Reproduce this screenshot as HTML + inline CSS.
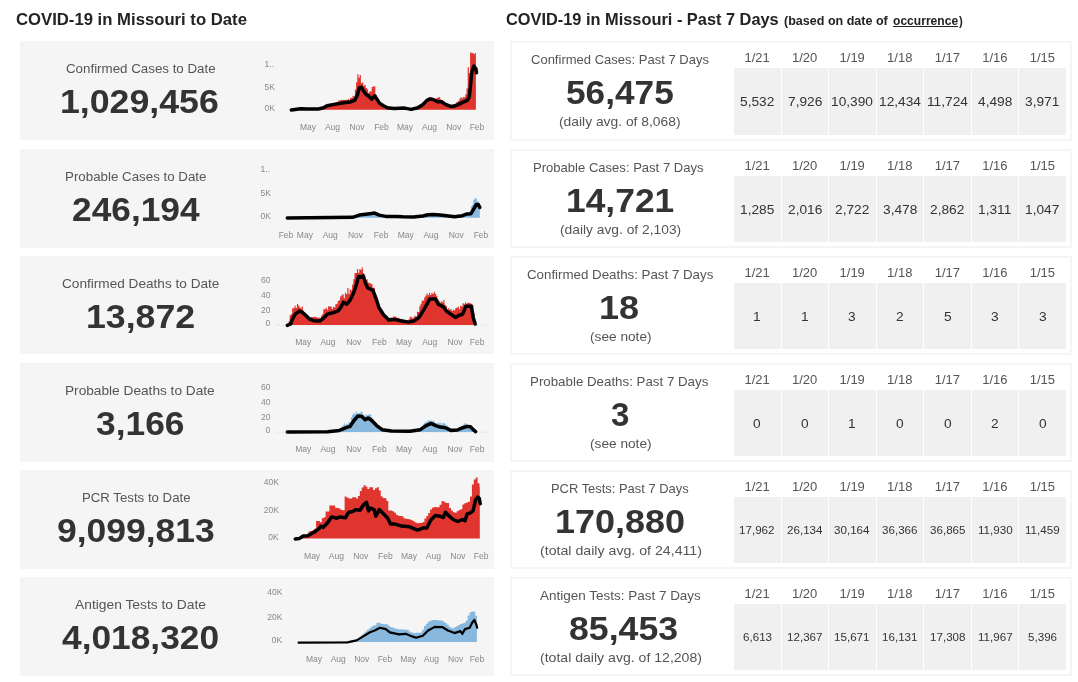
<!DOCTYPE html>
<html lang="en">
<head>
<meta charset="utf-8">
<title>COVID-19 in Missouri</title>
<style>
html,body{margin:0;padding:0;background:#fff;}
body{width:1078px;height:682px;position:relative;overflow:hidden;font-family:"Liberation Sans",sans-serif;}
.t{position:absolute;white-space:nowrap;line-height:1;transform-origin:0 0;display:block;}
.b{font-weight:bold;}
.u{text-decoration:underline;text-decoration-thickness:1px;text-underline-offset:1px;}
.lp{position:absolute;left:20px;width:474px;background:#f5f5f5;}
.rp{position:absolute;left:510px;width:562px;box-sizing:border-box;border:2px solid #f5f5f5;background:#fff;}
.cells{position:absolute;background:#f0f0f0;}
.sep{position:absolute;width:1px;background:#fff;}
header,main{will-change:transform;}
svg{position:absolute;left:0;top:0;overflow:visible;}
svg text{font-family:"Liberation Sans",sans-serif;font-size:8.5px;fill:#888;}
</style>
</head>
<body>
<header>
<span class="t b" style="left:16.20px;top:11.32px;font-size:16.4px;color:#232323;transform:scaleX(1.0183)">COVID-19 in Missouri to Date</span>
<span class="t b" style="left:506.00px;top:11.32px;font-size:16.4px;color:#232323;transform:scaleX(0.9980)">COVID-19 in Missouri - Past 7 Days</span>
<span class="t b" style="left:784.30px;top:14.93px;font-size:12.6px;color:#232323;transform:scaleX(0.9956)">(based on date of</span>
<span class="t b u" style="left:892.50px;top:14.93px;font-size:12.6px;color:#232323;transform:scaleX(0.9588)">occurrence</span>
<span class="t b" style="left:958.80px;top:14.93px;font-size:12.6px;color:#232323;transform:scaleX(0.9000)">)</span>
</header>
<main>
<section class="row">
<div class="card">
<div class="lp" style="top:41px;height:99px"></div>
<span class="t" style="left:65.60px;top:62.20px;font-size:13px;color:#555;transform:scaleX(1.0252)">Confirmed Cases to Date</span>
<span class="t b" style="left:60.39px;top:85.96px;font-size:32.3px;color:#333;transform:scaleX(1.1050)">1,029,456</span>
<svg width="1078" height="682" viewBox="0 0 1078 682">
<path d="M291.30,109.70L291.30,109.70L292.50,109.70L292.50,109.66L293.70,109.66L293.70,109.64L294.90,109.64L294.90,109.61L296.10,109.61L296.10,109.59L297.30,109.59L297.30,109.57L298.50,109.57L298.50,109.54L299.70,109.54L299.70,109.52L300.90,109.52L300.90,109.50L302.10,109.50L302.10,109.48L303.30,109.48L303.30,109.45L304.50,109.45L304.50,109.43L305.70,109.43L305.70,109.41L306.90,109.41L306.90,109.39L308.10,109.39L308.10,109.36L309.30,109.36L309.30,109.34L310.50,109.34L310.50,109.32L311.70,109.32L311.70,109.30L312.90,109.30L312.90,109.27L314.10,109.27L314.10,109.25L315.30,109.25L315.30,109.23L316.50,109.23L316.50,109.21L317.70,109.21L317.70,108.77L318.90,108.77L318.90,108.19L320.10,108.19L320.10,107.76L321.30,107.76L321.30,107.03L322.50,107.03L322.50,106.77L323.70,106.77L323.70,105.70L324.90,105.70L324.90,105.44L326.10,105.44L326.10,104.35L327.30,104.35L327.30,104.28L328.50,104.28L328.50,103.91L329.70,103.91L329.70,104.28L330.90,104.28L330.90,103.48L332.10,103.48L332.10,103.31L333.30,103.31L333.30,102.96L334.50,102.96L334.50,103.10L335.70,103.10L335.70,101.88L336.90,101.88L336.90,102.05L338.10,102.05L338.10,100.79L339.30,100.79L339.30,100.59L340.50,100.59L340.50,99.80L341.70,99.80L341.70,100.29L342.90,100.29L342.90,99.80L344.10,99.80L344.10,100.09L345.30,100.09L345.30,99.80L346.50,99.80L346.50,100.14L347.70,100.14L347.70,99.04L348.90,99.04L348.90,99.83L350.10,99.83L350.10,97.81L351.30,97.81L351.30,98.09L352.50,98.09L352.50,95.83L353.70,95.83L353.70,96.54L354.90,96.54L354.90,89.47L356.10,89.47L356.10,82.17L357.30,82.17L357.30,74.20L358.50,74.20L358.50,77.83L359.70,77.83L359.70,75.05L360.90,75.05L360.90,83.21L362.10,83.21L362.10,82.51L363.30,82.51L363.30,85.71L364.50,85.71L364.50,85.09L365.70,85.09L365.70,88.00L366.90,88.00L366.90,89.36L368.10,89.36L368.10,93.04L369.30,93.04L369.30,91.56L370.50,91.56L370.50,91.23L371.70,91.23L371.70,86.88L372.90,86.88L372.90,86.51L374.10,86.51L374.10,86.25L375.30,86.25L375.30,95.55L376.50,95.55L376.50,97.00L377.70,97.00L377.70,100.02L378.90,100.02L378.90,101.42L380.10,101.42L380.10,103.14L381.30,103.14L381.30,103.71L382.50,103.71L382.50,104.88L383.70,104.88L383.70,105.31L384.90,105.31L384.90,106.13L386.10,106.13L386.10,106.67L387.30,106.67L387.30,107.53L388.50,107.53L388.50,107.57L389.70,107.57L389.70,107.85L390.90,107.85L390.90,107.93L392.10,107.93L392.10,108.12L393.30,108.12L393.30,108.29L394.50,108.29L394.50,108.36L395.70,108.36L395.70,108.32L396.90,108.32L396.90,108.29L398.10,108.29L398.10,108.25L399.30,108.25L399.30,108.22L400.50,108.22L400.50,108.18L401.70,108.18L401.70,108.15L402.90,108.15L402.90,108.11L404.10,108.11L404.10,108.11L405.30,108.11L405.30,108.20L406.50,108.20L406.50,108.43L407.70,108.43L407.70,108.52L408.90,108.52L408.90,108.73L410.10,108.73L410.10,108.85L411.30,108.85L411.30,108.69L412.50,108.69L412.50,108.24L413.70,108.24L413.70,107.98L414.90,107.98L414.90,107.52L416.10,107.52L416.10,107.16L417.30,107.16L417.30,106.48L418.50,106.48L418.50,106.13L419.70,106.13L419.70,104.72L420.90,104.72L420.90,104.37L422.10,104.37L422.10,102.86L423.30,102.86L423.30,101.52L424.50,101.52L424.50,100.03L425.70,100.03L425.70,98.94L426.90,98.94L426.90,98.03L428.10,98.03L428.10,97.53L429.30,97.53L429.30,97.19L430.50,97.19L430.50,97.77L431.70,97.77L431.70,97.70L432.90,97.70L432.90,98.58L434.10,98.58L434.10,98.72L435.30,98.72L435.30,99.05L436.50,99.05L436.50,97.72L437.70,97.72L437.70,97.68L438.90,97.68L438.90,97.10L440.10,97.10L440.10,99.21L441.30,99.21L441.30,100.03L442.50,100.03L442.50,101.52L443.70,101.52L443.70,102.02L444.90,102.02L444.90,103.57L446.10,103.57L446.10,103.86L447.30,103.86L447.30,104.60L448.50,104.60L448.50,104.95L449.70,104.95L449.70,105.73L450.90,105.73L450.90,105.06L452.10,105.06L452.10,104.83L453.30,104.83L453.30,103.88L454.50,103.88L454.50,103.99L455.70,103.99L455.70,102.55L456.90,102.55L456.90,101.85L458.10,101.85L458.10,100.88L459.30,100.88L459.30,98.71L460.50,98.71L460.50,97.21L461.70,97.21L461.70,98.37L462.90,98.37L462.90,97.00L464.10,97.00L464.10,97.24L465.30,97.24L465.30,94.24L466.50,94.24L466.50,88.62L467.70,88.62L467.70,67.21L468.90,67.21L468.90,72.92L470.10,72.92L470.10,52.30L471.30,52.30L471.30,53.21L472.50,53.21L472.50,53.10L473.70,53.10L473.70,54.13L474.90,54.13L474.90,52.90L475.90,52.90L475.90,109.70Z" fill="#e0342f"/>
<path d="M291.3,110.1L300.5,108.8L307.8,109.0L318.4,109.0L323.6,107.7L327.0,105.7L334.2,104.4L342.1,103.1L350.0,102.0L354.7,100.4L357.3,95.2L359.3,87.9L361.3,87.2L363.3,90.5L365.9,94.2L368.5,96.0L371.8,99.1L374.9,95.8L376.9,99.1L379.5,103.1L383.5,105.7L387.4,107.7L394.0,108.4L404.6,108.1L411.2,109.4L417.8,107.7L423.1,104.4L427.0,100.4L430.3,98.9L433.6,99.8L437.6,101.8L441.6,101.8L445.5,104.4L450.8,106.4L454.8,106.0L458.7,104.4L462.7,102.4L467.3,100.4L469.3,97.1L470.6,84.6L471.9,71.4L473.9,66.1L475.9,68.8L476.5,72.7" fill="none" stroke="#000" stroke-width="3.5" stroke-linejoin="round" stroke-linecap="round"/>
<text x="264.6" y="66.6">1..</text><text x="264.6" y="89.7">5K</text><text x="264.6" y="110.8">0K</text>
<text x="308" y="129.6" text-anchor="middle">May</text><text x="332.5" y="129.6" text-anchor="middle">Aug</text><text x="357" y="129.6" text-anchor="middle">Nov</text><text x="381.5" y="129.6" text-anchor="middle">Feb</text><text x="405" y="129.6" text-anchor="middle">May</text><text x="429.5" y="129.6" text-anchor="middle">Aug</text><text x="453.8" y="129.6" text-anchor="middle">Nov</text><text x="477" y="129.6" text-anchor="middle">Feb</text>
</svg>
</div>
<div class="card">
<div class="rp" style="top:41px;height:100px"></div>
<div class="cells" style="left:734px;top:68px;width:332px;height:67px"></div>
<div class="sep" style="left:781px;top:68px;height:67px"></div>
<div class="sep" style="left:828px;top:68px;height:67px"></div>
<div class="sep" style="left:876px;top:68px;height:67px"></div>
<div class="sep" style="left:923px;top:68px;height:67px"></div>
<div class="sep" style="left:971px;top:68px;height:67px"></div>
<div class="sep" style="left:1018px;top:68px;height:67px"></div>
<span class="t" style="left:530.80px;top:53.00px;font-size:13px;color:#555;transform:scaleX(1.0009)">Confirmed Cases: Past 7 Days</span>
<span class="t b" style="left:566.21px;top:76.86px;font-size:32.3px;color:#333;transform:scaleX(1.0908)">56,475</span>
<span class="t" style="left:559.30px;top:115.10px;font-size:13px;color:#555;transform:scaleX(1.0646)">(daily avg. of 8,068)</span>
<span class="t" style="left:744.46px;top:51.30px;font-size:13px;color:#555;transform:scaleX(1.0000)">1/21</span>
<span class="t" style="left:739.96px;top:94.70px;font-size:13px;color:#333;transform:scaleX(1.0550)">5,532</span>
<span class="t" style="left:792.01px;top:51.30px;font-size:13px;color:#555;transform:scaleX(1.0000)">1/20</span>
<span class="t" style="left:787.51px;top:94.70px;font-size:13px;color:#333;transform:scaleX(1.0550)">7,926</span>
<span class="t" style="left:839.56px;top:51.30px;font-size:13px;color:#555;transform:scaleX(1.0000)">1/19</span>
<span class="t" style="left:831.25px;top:94.70px;font-size:13px;color:#333;transform:scaleX(1.0550)">10,390</span>
<span class="t" style="left:887.11px;top:51.30px;font-size:13px;color:#555;transform:scaleX(1.0000)">1/18</span>
<span class="t" style="left:878.80px;top:94.70px;font-size:13px;color:#333;transform:scaleX(1.0550)">12,434</span>
<span class="t" style="left:934.66px;top:51.30px;font-size:13px;color:#555;transform:scaleX(1.0000)">1/17</span>
<span class="t" style="left:926.86px;top:94.70px;font-size:13px;color:#333;transform:scaleX(1.0550)">11,724</span>
<span class="t" style="left:982.21px;top:51.30px;font-size:13px;color:#555;transform:scaleX(1.0000)">1/16</span>
<span class="t" style="left:977.71px;top:94.70px;font-size:13px;color:#333;transform:scaleX(1.0550)">4,498</span>
<span class="t" style="left:1029.76px;top:51.30px;font-size:13px;color:#555;transform:scaleX(1.0000)">1/15</span>
<span class="t" style="left:1025.26px;top:94.70px;font-size:13px;color:#333;transform:scaleX(1.0550)">3,971</span>
</div>
</section>
<section class="row">
<div class="card">
<div class="lp" style="top:149px;height:99px"></div>
<span class="t" style="left:64.68px;top:170.20px;font-size:13px;color:#555;transform:scaleX(1.0249)">Probable Cases to Date</span>
<span class="t b" style="left:72.21px;top:193.96px;font-size:32.3px;color:#333;transform:scaleX(1.0926)">246,194</span>
<svg width="1078" height="682" viewBox="0 0 1078 682">
<path d="M287.30,217.70L287.30,217.70L288.50,217.70L288.50,217.67L289.70,217.67L289.70,217.70L290.90,217.70L290.90,217.65L292.10,217.65L292.10,217.69L293.30,217.69L293.30,217.62L294.50,217.62L294.50,217.70L295.70,217.70L295.70,217.60L296.90,217.60L296.90,217.64L298.10,217.64L298.10,217.57L299.30,217.57L299.30,217.69L300.50,217.69L300.50,217.55L301.70,217.55L301.70,217.62L302.90,217.62L302.90,217.52L304.10,217.52L304.10,217.66L305.30,217.66L305.30,217.49L306.50,217.49L306.50,217.48L307.70,217.48L307.70,217.47L308.90,217.47L308.90,217.49L310.10,217.49L310.10,217.44L311.30,217.44L311.30,217.49L312.50,217.49L312.50,217.42L313.70,217.42L313.70,217.41L314.90,217.41L314.90,217.39L316.10,217.39L316.10,217.44L317.30,217.44L317.30,217.37L318.50,217.37L318.50,217.44L319.70,217.44L319.70,217.34L320.90,217.34L320.90,217.43L322.10,217.43L322.10,217.31L323.30,217.31L323.30,217.34L324.50,217.34L324.50,217.29L325.70,217.29L325.70,217.42L326.90,217.42L326.90,217.26L328.10,217.26L328.10,217.26L329.30,217.26L329.30,217.24L330.50,217.24L330.50,217.35L331.70,217.35L331.70,217.21L332.90,217.21L332.90,217.29L334.10,217.29L334.10,217.19L335.30,217.19L335.30,217.21L336.50,217.21L336.50,217.16L337.70,217.16L337.70,217.20L338.90,217.20L338.90,217.13L340.10,217.13L340.10,217.15L341.30,217.15L341.30,217.11L342.50,217.11L342.50,217.15L343.70,217.15L343.70,217.08L344.90,217.08L344.90,217.19L346.10,217.19L346.10,217.06L347.30,217.06L347.30,217.11L348.50,217.11L348.50,217.03L349.70,217.03L349.70,217.13L350.90,217.13L350.90,217.01L352.10,217.01L352.10,216.80L353.30,216.80L353.30,216.32L354.50,216.32L354.50,216.02L355.70,216.02L355.70,215.41L356.90,215.41L356.90,215.24L358.10,215.24L358.10,214.50L359.30,214.50L359.30,214.43L360.50,214.43L360.50,213.96L361.70,213.96L361.70,213.81L362.90,213.81L362.90,213.43L364.10,213.43L364.10,213.67L365.30,213.67L365.30,212.93L366.50,212.93L366.50,213.03L367.70,213.03L367.70,212.57L368.90,212.57L368.90,212.43L370.10,212.43L370.10,212.34L371.30,212.34L371.30,212.68L372.50,212.68L372.50,212.24L373.70,212.24L373.70,212.57L374.90,212.57L374.90,212.37L376.10,212.37L376.10,213.28L377.30,213.28L377.30,213.73L378.50,213.73L378.50,214.66L379.70,214.66L379.70,214.91L380.90,214.91L380.90,215.24L382.10,215.24L382.10,215.42L383.30,215.42L383.30,215.83L384.50,215.83L384.50,215.92L385.70,215.92L385.70,216.27L386.90,216.27L386.90,216.21L388.10,216.21L388.10,216.22L389.30,216.22L389.30,216.22L390.50,216.22L390.50,216.27L391.70,216.27L391.70,216.23L392.90,216.23L392.90,216.27L394.10,216.27L394.10,216.25L395.30,216.25L395.30,216.29L396.50,216.29L396.50,216.26L397.70,216.26L397.70,216.27L398.90,216.27L398.90,216.28L400.10,216.28L400.10,216.34L401.30,216.34L401.30,216.29L402.50,216.29L402.50,216.45L403.70,216.45L403.70,216.30L404.90,216.30L404.90,216.38L406.10,216.38L406.10,216.32L407.30,216.32L407.30,216.41L408.50,216.41L408.50,216.33L409.70,216.33L409.70,216.43L410.90,216.43L410.90,216.35L412.10,216.35L412.10,216.36L413.30,216.36L413.30,216.36L414.50,216.36L414.50,216.56L415.70,216.56L415.70,216.37L416.90,216.37L416.90,216.45L418.10,216.45L418.10,216.39L419.30,216.39L419.30,216.27L420.50,216.27L420.50,215.94L421.70,215.94L421.70,215.67L422.90,215.67L422.90,215.29L424.10,215.29L424.10,214.96L425.30,214.96L425.30,214.63L426.50,214.63L426.50,214.50L427.70,214.50L427.70,214.14L428.90,214.14L428.90,214.19L430.10,214.19L430.10,213.96L431.30,213.96L431.30,214.04L432.50,214.04L432.50,213.82L433.70,213.82L433.70,213.93L434.90,213.93L434.90,214.03L436.10,214.03L436.10,214.32L437.30,214.32L437.30,214.39L438.50,214.39L438.50,214.68L439.70,214.68L439.70,214.75L440.90,214.75L440.90,215.04L442.10,215.04L442.10,215.02L443.30,215.02L443.30,215.17L444.50,215.17L444.50,215.28L445.70,215.28L445.70,215.52L446.90,215.52L446.90,215.54L448.10,215.54L448.10,215.77L449.30,215.77L449.30,215.88L450.50,215.88L450.50,216.12L451.70,216.12L451.70,216.21L452.90,216.21L452.90,216.39L454.10,216.39L454.10,216.46L455.30,216.46L455.30,216.29L456.50,216.29L456.50,216.03L457.70,216.03L457.70,215.91L458.90,215.91L458.90,215.61L460.10,215.61L460.10,215.53L461.30,215.53L461.30,215.16L462.50,215.16L462.50,214.80L463.70,214.80L463.70,214.14L464.90,214.14L464.90,213.92L466.10,213.92L466.10,213.28L467.30,213.28L467.30,213.03L468.50,213.03L468.50,212.70L469.70,212.70L469.70,211.06L470.90,211.06L470.90,206.33L472.10,206.33L472.10,204.80L473.30,204.80L473.30,200.10L474.50,200.10L474.50,198.60L475.70,198.60L475.70,198.15L476.90,198.15L476.90,201.28L478.10,201.28L478.10,201.98L479.30,201.98L479.30,204.01L479.80,204.01L479.80,217.70Z" fill="#88b8dd"/>
<path d="M287.3,218.1L352.7,217.3L359.3,215.1L370.0,213.7L374.6,213.1L379.2,215.1L385.8,216.4L396.4,216.4L403.0,216.8L413.6,217.0L422.8,216.0L428.1,214.7L433.4,214.4L440.0,215.1L446.6,215.7L454.5,216.8L462.4,215.7L466.4,214.1L471.0,213.7L473.6,209.1L476.3,204.5L478.3,204.5L479.8,207.5" fill="none" stroke="#000" stroke-width="3.5" stroke-linejoin="round" stroke-linecap="round"/>
<text x="260.6" y="171.7">1..</text><text x="260.6" y="196.0">5K</text><text x="260.6" y="218.8">0K</text>
<text x="286" y="238.0" text-anchor="middle">Feb</text><text x="304.9" y="238.0" text-anchor="middle">May</text><text x="330.2" y="238.0" text-anchor="middle">Aug</text><text x="355.5" y="238.0" text-anchor="middle">Nov</text><text x="381.2" y="238.0" text-anchor="middle">Feb</text><text x="405.8" y="238.0" text-anchor="middle">May</text><text x="431" y="238.0" text-anchor="middle">Aug</text><text x="456.3" y="238.0" text-anchor="middle">Nov</text><text x="481" y="238.0" text-anchor="middle">Feb</text>
</svg>
</div>
<div class="card">
<div class="rp" style="top:149px;height:99px"></div>
<div class="cells" style="left:734px;top:176px;width:332px;height:66px"></div>
<div class="sep" style="left:781px;top:176px;height:66px"></div>
<div class="sep" style="left:828px;top:176px;height:66px"></div>
<div class="sep" style="left:876px;top:176px;height:66px"></div>
<div class="sep" style="left:923px;top:176px;height:66px"></div>
<div class="sep" style="left:971px;top:176px;height:66px"></div>
<div class="sep" style="left:1018px;top:176px;height:66px"></div>
<span class="t" style="left:533.40px;top:161.00px;font-size:13px;color:#555;transform:scaleX(1.0041)">Probable Cases: Past 7 Days</span>
<span class="t b" style="left:565.51px;top:184.86px;font-size:32.3px;color:#333;transform:scaleX(1.0958)">14,721</span>
<span class="t" style="left:559.50px;top:223.10px;font-size:13px;color:#555;transform:scaleX(1.0611)">(daily avg. of 2,103)</span>
<span class="t" style="left:744.46px;top:159.30px;font-size:13px;color:#555;transform:scaleX(1.0000)">1/21</span>
<span class="t" style="left:739.96px;top:202.70px;font-size:13px;color:#333;transform:scaleX(1.0550)">1,285</span>
<span class="t" style="left:792.01px;top:159.30px;font-size:13px;color:#555;transform:scaleX(1.0000)">1/20</span>
<span class="t" style="left:787.51px;top:202.70px;font-size:13px;color:#333;transform:scaleX(1.0550)">2,016</span>
<span class="t" style="left:839.56px;top:159.30px;font-size:13px;color:#555;transform:scaleX(1.0000)">1/19</span>
<span class="t" style="left:835.06px;top:202.70px;font-size:13px;color:#333;transform:scaleX(1.0550)">2,722</span>
<span class="t" style="left:887.11px;top:159.30px;font-size:13px;color:#555;transform:scaleX(1.0000)">1/18</span>
<span class="t" style="left:882.61px;top:202.70px;font-size:13px;color:#333;transform:scaleX(1.0550)">3,478</span>
<span class="t" style="left:934.66px;top:159.30px;font-size:13px;color:#555;transform:scaleX(1.0000)">1/17</span>
<span class="t" style="left:930.16px;top:202.70px;font-size:13px;color:#333;transform:scaleX(1.0550)">2,862</span>
<span class="t" style="left:982.21px;top:159.30px;font-size:13px;color:#555;transform:scaleX(1.0000)">1/16</span>
<span class="t" style="left:978.22px;top:202.70px;font-size:13px;color:#333;transform:scaleX(1.0550)">1,311</span>
<span class="t" style="left:1029.76px;top:159.30px;font-size:13px;color:#555;transform:scaleX(1.0000)">1/15</span>
<span class="t" style="left:1025.26px;top:202.70px;font-size:13px;color:#333;transform:scaleX(1.0550)">1,047</span>
</div>
</section>
<section class="row">
<div class="card">
<div class="lp" style="top:256px;height:98px"></div>
<span class="t" style="left:61.60px;top:277.20px;font-size:13px;color:#555;transform:scaleX(1.0476)">Confirmed Deaths to Date</span>
<span class="t b" style="left:85.59px;top:300.96px;font-size:32.3px;color:#333;transform:scaleX(1.1052)">13,872</span>
<svg width="1078" height="682" viewBox="0 0 1078 682">
<line x1="276" y1="325.1" x2="487" y2="325.1" stroke="#d4d4d4" stroke-width="1" stroke-dasharray="1 2"/>
<path d="M288.50,325.10L288.50,321.59L289.70,321.59L289.70,315.22L290.90,315.22L290.90,313.98L292.10,313.98L292.10,308.20L293.30,308.20L293.30,308.27L294.50,308.27L294.50,305.80L295.70,305.80L295.70,308.08L296.90,308.08L296.90,304.00L298.10,304.00L298.10,305.46L299.30,305.46L299.30,307.55L300.50,307.55L300.50,308.22L301.70,308.22L301.70,306.39L302.90,306.39L302.90,310.55L304.10,310.55L304.10,312.24L305.30,312.24L305.30,314.66L306.50,314.66L306.50,315.17L307.70,315.17L307.70,316.25L308.90,316.25L308.90,317.32L310.10,317.32L310.10,317.32L311.30,317.32L311.30,316.91L312.50,316.91L312.50,317.36L313.70,317.36L313.70,316.87L314.90,316.87L314.90,317.11L316.10,317.11L316.10,317.14L317.30,317.14L317.30,317.94L318.50,317.94L318.50,317.45L319.70,317.45L319.70,318.68L320.90,318.68L320.90,315.70L322.10,315.70L322.10,314.25L323.30,314.25L323.30,309.36L324.50,309.36L324.50,309.35L325.70,309.35L325.70,307.63L326.90,307.63L326.90,309.83L328.10,309.83L328.10,306.25L329.30,306.25L329.30,306.50L330.50,306.50L330.50,306.41L331.70,306.41L331.70,308.93L332.90,308.93L332.90,306.73L334.10,306.73L334.10,307.47L335.30,307.47L335.30,304.26L336.50,304.26L336.50,303.76L337.70,303.76L337.70,300.99L338.90,300.99L338.90,300.31L340.10,300.31L340.10,296.50L341.30,296.50L341.30,295.34L342.50,295.34L342.50,294.26L343.70,294.26L343.70,298.24L344.90,298.24L344.90,292.66L346.10,292.66L346.10,294.28L347.30,294.28L347.30,288.08L348.50,288.08L348.50,293.75L349.70,293.75L349.70,289.25L350.90,289.25L350.90,290.58L352.10,290.58L352.10,284.40L353.30,284.40L353.30,279.27L354.50,279.27L354.50,272.91L355.70,272.91L355.70,272.94L356.90,272.94L356.90,268.99L358.10,268.99L358.10,272.73L359.30,272.73L359.30,268.95L360.50,268.95L360.50,269.91L361.70,269.91L361.70,267.54L362.90,267.54L362.90,272.88L364.10,272.88L364.10,275.20L365.30,275.20L365.30,279.94L366.50,279.94L366.50,279.23L367.70,279.23L367.70,282.81L368.90,282.81L368.90,282.80L370.10,282.80L370.10,283.53L371.30,283.53L371.30,284.36L372.50,284.36L372.50,287.67L373.70,287.67L373.70,287.70L374.90,287.70L374.90,293.73L376.10,293.73L376.10,297.04L377.30,297.04L377.30,301.77L378.50,301.77L378.50,304.74L379.70,304.74L379.70,308.24L380.90,308.24L380.90,309.26L382.10,309.26L382.10,311.66L383.30,311.66L383.30,313.17L384.50,313.17L384.50,315.38L385.70,315.38L385.70,315.78L386.90,315.78L386.90,317.73L388.10,317.73L388.10,318.27L389.30,318.27L389.30,318.27L390.50,318.27L390.50,317.57L391.70,317.57L391.70,317.65L392.90,317.65L392.90,316.39L394.10,316.39L394.10,316.64L395.30,316.64L395.30,316.45L396.50,316.45L396.50,317.88L397.70,317.88L397.70,317.86L398.90,317.86L398.90,318.60L400.10,318.60L400.10,318.97L401.30,318.97L401.30,319.48L402.50,319.48L402.50,319.49L403.70,319.49L403.70,320.23L404.90,320.23L404.90,320.00L406.10,320.00L406.10,320.46L407.30,320.46L407.30,320.52L408.50,320.52L408.50,319.27L409.70,319.27L409.70,316.64L410.90,316.64L410.90,317.33L412.10,317.33L412.10,318.38L413.30,318.38L413.30,317.14L414.50,317.14L414.50,315.71L415.70,315.71L415.70,316.42L416.90,316.42L416.90,311.80L418.10,311.80L418.10,311.99L419.30,311.99L419.30,306.28L420.50,306.28L420.50,303.87L421.70,303.87L421.70,300.76L422.90,300.76L422.90,300.46L424.10,300.46L424.10,297.51L425.30,297.51L425.30,295.66L426.50,295.66L426.50,293.59L427.70,293.59L427.70,295.34L428.90,295.34L428.90,292.77L430.10,292.77L430.10,294.92L431.30,294.92L431.30,293.12L432.50,293.12L432.50,294.06L433.70,294.06L433.70,291.70L434.90,291.70L434.90,293.81L436.10,293.81L436.10,295.84L437.30,295.84L437.30,299.35L438.50,299.35L438.50,300.78L439.70,300.78L439.70,302.81L440.90,302.81L440.90,301.13L442.10,301.13L442.10,302.25L443.30,302.25L443.30,300.12L444.50,300.12L444.50,304.80L445.70,304.80L445.70,306.02L446.90,306.02L446.90,309.45L448.10,309.45L448.10,308.37L449.30,308.37L449.30,309.70L450.50,309.70L450.50,309.05L451.70,309.05L451.70,310.94L452.90,310.94L452.90,309.67L454.10,309.67L454.10,310.21L455.30,310.21L455.30,308.00L456.50,308.00L456.50,307.73L457.70,307.73L457.70,306.60L458.90,306.60L458.90,309.20L460.10,309.20L460.10,305.85L461.30,305.85L461.30,306.54L462.50,306.54L462.50,303.27L463.70,303.27L463.70,304.33L464.90,304.33L464.90,302.47L466.10,302.47L466.10,303.69L467.30,303.69L467.30,302.49L468.50,302.49L468.50,302.99L469.70,302.99L469.70,303.16L470.90,303.16L470.90,303.84L472.10,303.84L472.10,304.83L473.30,304.83L473.30,312.89L474.50,312.89L474.50,319.05L475.20,319.05L475.20,325.10Z" fill="#e0342f"/>
<path d="M287.3,325.4L290.6,324.0L292.6,318.8L295.3,314.1L299.2,311.1L301.9,312.2L305.2,314.8L309.1,318.8L313.7,320.7L319.7,321.0L323.6,318.1L327.6,314.1L332.9,312.8L338.2,310.8L340.8,307.5L343.4,302.3L346.7,304.2L350.0,300.3L353.3,293.7L356.0,285.8L358.6,276.5L360.6,277.2L363.2,275.9L365.2,282.4L367.6,287.7L372.9,290.4L376.2,299.0L378.9,307.5L383.5,314.8L388.8,320.1L394.0,319.4L400.6,320.7L408.6,322.1L414.5,320.7L419.1,317.4L423.1,310.8L427.0,304.2L429.7,299.0L435.6,299.0L438.3,304.2L443.5,306.9L446.8,311.5L450.8,314.1L455.4,317.4L458.7,315.5L462.7,314.1L466.0,306.2L471.3,306.2L473.2,317.4L475.2,324.0" fill="none" stroke="#000" stroke-width="3.5" stroke-linejoin="round" stroke-linecap="round"/>
<text x="261.1" y="283">60</text><text x="261.1" y="298">40</text><text x="261.1" y="313">20</text><text x="265.5" y="326">0</text>
<text x="303.2" y="345.4" text-anchor="middle">May</text><text x="328" y="345.4" text-anchor="middle">Aug</text><text x="353.7" y="345.4" text-anchor="middle">Nov</text><text x="379.4" y="345.4" text-anchor="middle">Feb</text><text x="404" y="345.4" text-anchor="middle">May</text><text x="429.7" y="345.4" text-anchor="middle">Aug</text><text x="455" y="345.4" text-anchor="middle">Nov</text><text x="477.2" y="345.4" text-anchor="middle">Feb</text>
</svg>
</div>
<div class="card">
<div class="rp" style="top:256px;height:99px"></div>
<div class="cells" style="left:734px;top:283px;width:332px;height:66px"></div>
<div class="sep" style="left:781px;top:283px;height:66px"></div>
<div class="sep" style="left:828px;top:283px;height:66px"></div>
<div class="sep" style="left:876px;top:283px;height:66px"></div>
<div class="sep" style="left:923px;top:283px;height:66px"></div>
<div class="sep" style="left:971px;top:283px;height:66px"></div>
<div class="sep" style="left:1018px;top:283px;height:66px"></div>
<span class="t" style="left:526.60px;top:268.00px;font-size:13px;color:#555;transform:scaleX(1.0231)">Confirmed Deaths: Past 7 Days</span>
<span class="t b" style="left:599.47px;top:291.86px;font-size:32.3px;color:#333;transform:scaleX(1.1164)">18</span>
<span class="t" style="left:589.50px;top:330.10px;font-size:13px;color:#555;transform:scaleX(1.0515)">(see note)</span>
<span class="t" style="left:744.46px;top:266.30px;font-size:13px;color:#555;transform:scaleX(1.0000)">1/21</span>
<span class="t" style="left:753.31px;top:309.70px;font-size:13px;color:#333;transform:scaleX(1.0550)">1</span>
<span class="t" style="left:792.01px;top:266.30px;font-size:13px;color:#555;transform:scaleX(1.0000)">1/20</span>
<span class="t" style="left:800.86px;top:309.70px;font-size:13px;color:#333;transform:scaleX(1.0550)">1</span>
<span class="t" style="left:839.56px;top:266.30px;font-size:13px;color:#555;transform:scaleX(1.0000)">1/19</span>
<span class="t" style="left:848.41px;top:309.70px;font-size:13px;color:#333;transform:scaleX(1.0550)">3</span>
<span class="t" style="left:887.11px;top:266.30px;font-size:13px;color:#555;transform:scaleX(1.0000)">1/18</span>
<span class="t" style="left:895.96px;top:309.70px;font-size:13px;color:#333;transform:scaleX(1.0550)">2</span>
<span class="t" style="left:934.66px;top:266.30px;font-size:13px;color:#555;transform:scaleX(1.0000)">1/17</span>
<span class="t" style="left:943.51px;top:309.70px;font-size:13px;color:#333;transform:scaleX(1.0550)">5</span>
<span class="t" style="left:982.21px;top:266.30px;font-size:13px;color:#555;transform:scaleX(1.0000)">1/16</span>
<span class="t" style="left:991.06px;top:309.70px;font-size:13px;color:#333;transform:scaleX(1.0550)">3</span>
<span class="t" style="left:1029.76px;top:266.30px;font-size:13px;color:#555;transform:scaleX(1.0000)">1/15</span>
<span class="t" style="left:1038.61px;top:309.70px;font-size:13px;color:#333;transform:scaleX(1.0550)">3</span>
</div>
</section>
<section class="row">
<div class="card">
<div class="lp" style="top:363px;height:99px"></div>
<span class="t" style="left:64.65px;top:384.20px;font-size:13px;color:#555;transform:scaleX(1.0515)">Probable Deaths to Date</span>
<span class="t b" style="left:95.70px;top:407.96px;font-size:32.3px;color:#333;transform:scaleX(1.0944)">3,166</span>
<svg width="1078" height="682" viewBox="0 0 1078 682">
<line x1="276" y1="432.1" x2="487" y2="432.1" stroke="#d4d4d4" stroke-width="1" stroke-dasharray="1 2"/>
<path d="M287.30,432.10L287.30,432.09L288.50,432.09L288.50,432.06L289.70,432.06L289.70,432.05L290.90,432.05L290.90,432.03L292.10,432.03L292.10,432.02L293.30,432.02L293.30,431.99L294.50,431.99L294.50,431.99L295.70,431.99L295.70,431.96L296.90,431.96L296.90,431.95L298.10,431.95L298.10,431.92L299.30,431.92L299.30,431.93L300.50,431.93L300.50,431.89L301.70,431.89L301.70,431.89L302.90,431.89L302.90,431.85L304.10,431.85L304.10,431.87L305.30,431.87L305.30,431.81L306.50,431.81L306.50,431.80L307.70,431.80L307.70,431.78L308.90,431.78L308.90,431.77L310.10,431.77L310.10,431.74L311.30,431.74L311.30,431.74L312.50,431.74L312.50,431.71L313.70,431.71L313.70,431.69L314.90,431.69L314.90,431.67L316.10,431.67L316.10,431.68L317.30,431.68L317.30,431.64L318.50,431.64L318.50,431.66L319.70,431.66L319.70,431.60L320.90,431.60L320.90,431.64L322.10,431.64L322.10,431.56L323.30,431.56L323.30,431.57L324.50,431.57L324.50,431.53L325.70,431.53L325.70,431.59L326.90,431.59L326.90,431.42L328.10,431.42L328.10,431.23L329.30,431.23L329.30,431.01L330.50,431.01L330.50,431.00L331.70,431.00L331.70,430.61L332.90,430.61L332.90,430.59L334.10,430.59L334.10,430.21L335.30,430.21L335.30,430.09L336.50,430.09L336.50,429.80L337.70,429.80L337.70,429.74L338.90,429.74L338.90,428.93L340.10,428.93L340.10,428.00L341.30,428.00L341.30,426.65L342.50,426.65L342.50,425.84L343.70,425.84L343.70,423.20L344.90,423.20L344.90,425.03L346.10,425.03L346.10,423.83L347.30,423.83L347.30,424.16L348.50,424.16L348.50,422.11L349.70,422.11L349.70,422.01L350.90,422.01L350.90,417.15L352.10,417.15L352.10,414.87L353.30,414.87L353.30,413.30L354.50,413.30L354.50,413.89L355.70,413.89L355.70,411.50L356.90,411.50L356.90,413.47L358.10,413.47L358.10,413.20L359.30,413.20L359.30,413.06L360.50,413.06L360.50,411.40L361.70,411.40L361.70,412.58L362.90,412.58L362.90,414.57L364.10,414.57L364.10,416.70L365.30,416.70L365.30,414.62L366.50,414.62L366.50,415.37L367.70,415.37L367.70,414.50L368.90,414.50L368.90,414.60L370.10,414.60L370.10,414.50L371.30,414.50L371.30,417.37L372.50,417.37L372.50,419.30L373.70,419.30L373.70,422.07L374.90,422.07L374.90,422.75L376.10,422.75L376.10,424.45L377.30,424.45L377.30,425.32L378.50,425.32L378.50,426.71L379.70,426.71L379.70,427.22L380.90,427.22L380.90,428.37L382.10,428.37L382.10,429.12L383.30,429.12L383.30,429.63L384.50,429.63L384.50,429.57L385.70,429.57L385.70,429.97L386.90,429.97L386.90,429.97L388.10,429.97L388.10,430.19L389.30,430.19L389.30,430.36L390.50,430.36L390.50,430.66L391.70,430.66L391.70,430.70L392.90,430.70L392.90,430.77L394.10,430.77L394.10,430.74L395.30,430.74L395.30,430.84L396.50,430.84L396.50,430.78L397.70,430.78L397.70,430.81L398.90,430.81L398.90,430.82L400.10,430.82L400.10,430.89L401.30,430.89L401.30,430.86L402.50,430.86L402.50,430.97L403.70,430.97L403.70,430.90L404.90,430.90L404.90,430.96L406.10,430.96L406.10,430.94L407.30,430.94L407.30,431.00L408.50,431.00L408.50,430.98L409.70,430.98L409.70,430.83L410.90,430.83L410.90,430.48L412.10,430.48L412.10,430.20L413.30,430.20L413.30,429.90L414.50,429.90L414.50,429.99L415.70,429.99L415.70,429.33L416.90,429.33L416.90,429.42L418.10,429.42L418.10,428.76L419.30,428.76L419.30,428.43L420.50,428.43L420.50,427.03L421.70,427.03L421.70,426.01L422.90,426.01L422.90,424.31L424.10,424.31L424.10,422.96L425.30,422.96L425.30,421.85L426.50,421.85L426.50,422.17L427.70,422.17L427.70,419.88L428.90,419.88L428.90,420.89L430.10,420.89L430.10,419.99L431.30,419.99L431.30,421.20L432.50,421.20L432.50,420.41L433.70,420.41L433.70,421.84L434.90,421.84L434.90,422.97L436.10,422.97L436.10,423.45L437.30,423.45L437.30,422.70L438.50,422.70L438.50,423.61L439.70,423.61L439.70,422.52L440.90,422.52L440.90,424.66L442.10,424.66L442.10,422.97L443.30,422.97L443.30,423.48L444.50,423.48L444.50,423.55L445.70,423.55L445.70,425.83L446.90,425.83L446.90,425.41L448.10,425.41L448.10,427.31L449.30,427.31L449.30,428.17L450.50,428.17L450.50,428.99L451.70,428.99L451.70,428.57L452.90,428.57L452.90,428.72L454.10,428.72L454.10,428.75L455.30,428.75L455.30,428.98L456.50,428.98L456.50,428.82L457.70,428.82L457.70,428.38L458.90,428.38L458.90,427.37L460.10,427.37L460.10,427.13L461.30,427.13L461.30,425.92L462.50,425.92L462.50,425.14L463.70,425.14L463.70,423.01L464.90,423.01L464.90,424.22L466.10,424.22L466.10,423.54L467.30,423.54L467.30,425.17L468.50,425.17L468.50,425.62L469.70,425.62L469.70,426.20L470.90,426.20L470.90,426.67L472.10,426.67L472.10,427.81L473.30,427.81L473.30,428.84L474.50,428.84L474.50,430.38L475.60,430.38L475.60,432.10Z" fill="#88b8dd"/>
<path d="M287.3,432.1L327.6,431.7L339.5,430.4L346.1,427.7L350.0,426.4L354.0,420.5L358.0,415.9L361.9,416.5L365.2,419.8L368.1,418.0L371.7,420.5L376.9,425.8L382.2,429.7L391.4,431.0L409.9,431.3L420.4,429.7L425.7,425.8L431.0,423.4L436.3,425.8L440.2,427.1L445.5,427.7L450.8,430.4L457.4,430.0L462.7,427.7L467.3,426.4L470.6,426.8L473.2,429.7L475.6,431.7" fill="none" stroke="#000" stroke-width="3.5" stroke-linejoin="round" stroke-linecap="round"/>
<text x="261.1" y="390">60</text><text x="261.1" y="405">40</text><text x="261.1" y="420">20</text><text x="265.5" y="433">0</text>
<text x="303.2" y="452.4" text-anchor="middle">May</text><text x="328" y="452.4" text-anchor="middle">Aug</text><text x="353.7" y="452.4" text-anchor="middle">Nov</text><text x="379.4" y="452.4" text-anchor="middle">Feb</text><text x="404" y="452.4" text-anchor="middle">May</text><text x="429.7" y="452.4" text-anchor="middle">Aug</text><text x="455" y="452.4" text-anchor="middle">Nov</text><text x="477.2" y="452.4" text-anchor="middle">Feb</text>
</svg>
</div>
<div class="card">
<div class="rp" style="top:363px;height:99px"></div>
<div class="cells" style="left:734px;top:390px;width:332px;height:66px"></div>
<div class="sep" style="left:781px;top:390px;height:66px"></div>
<div class="sep" style="left:828px;top:390px;height:66px"></div>
<div class="sep" style="left:876px;top:390px;height:66px"></div>
<div class="sep" style="left:923px;top:390px;height:66px"></div>
<div class="sep" style="left:971px;top:390px;height:66px"></div>
<div class="sep" style="left:1018px;top:390px;height:66px"></div>
<span class="t" style="left:529.68px;top:375.00px;font-size:13px;color:#555;transform:scaleX(1.0239)">Probable Deaths: Past 7 Days</span>
<span class="t b" style="left:610.90px;top:398.86px;font-size:32.3px;color:#333;transform:scaleX(1.0235)">3</span>
<span class="t" style="left:589.50px;top:437.10px;font-size:13px;color:#555;transform:scaleX(1.0515)">(see note)</span>
<span class="t" style="left:744.46px;top:373.30px;font-size:13px;color:#555;transform:scaleX(1.0000)">1/21</span>
<span class="t" style="left:753.31px;top:416.70px;font-size:13px;color:#333;transform:scaleX(1.0550)">0</span>
<span class="t" style="left:792.01px;top:373.30px;font-size:13px;color:#555;transform:scaleX(1.0000)">1/20</span>
<span class="t" style="left:800.86px;top:416.70px;font-size:13px;color:#333;transform:scaleX(1.0550)">0</span>
<span class="t" style="left:839.56px;top:373.30px;font-size:13px;color:#555;transform:scaleX(1.0000)">1/19</span>
<span class="t" style="left:848.41px;top:416.70px;font-size:13px;color:#333;transform:scaleX(1.0550)">1</span>
<span class="t" style="left:887.11px;top:373.30px;font-size:13px;color:#555;transform:scaleX(1.0000)">1/18</span>
<span class="t" style="left:895.96px;top:416.70px;font-size:13px;color:#333;transform:scaleX(1.0550)">0</span>
<span class="t" style="left:934.66px;top:373.30px;font-size:13px;color:#555;transform:scaleX(1.0000)">1/17</span>
<span class="t" style="left:943.51px;top:416.70px;font-size:13px;color:#333;transform:scaleX(1.0550)">0</span>
<span class="t" style="left:982.21px;top:373.30px;font-size:13px;color:#555;transform:scaleX(1.0000)">1/16</span>
<span class="t" style="left:991.06px;top:416.70px;font-size:13px;color:#333;transform:scaleX(1.0550)">2</span>
<span class="t" style="left:1029.76px;top:373.30px;font-size:13px;color:#555;transform:scaleX(1.0000)">1/15</span>
<span class="t" style="left:1038.61px;top:416.70px;font-size:13px;color:#333;transform:scaleX(1.0550)">0</span>
</div>
</section>
<section class="row">
<div class="card">
<div class="lp" style="top:470px;height:99px"></div>
<span class="t" style="left:81.68px;top:491.20px;font-size:13px;color:#555;transform:scaleX(1.0171)">PCR Tests to Date</span>
<span class="t b" style="left:57.10px;top:514.96px;font-size:32.3px;color:#333;transform:scaleX(1.0972)">9,099,813</span>
<svg width="1078" height="682" viewBox="0 0 1078 682">
<path d="M299.00,538.60L299.00,537.89L300.90,537.89L300.90,537.18L302.80,537.18L302.80,536.46L304.70,536.46L304.70,535.75L306.60,535.75L306.60,534.25L308.50,534.25L308.50,531.40L310.40,531.40L310.40,531.00L312.30,531.00L312.30,530.31L314.20,530.31L314.20,528.81L316.10,528.81L316.10,520.92L318.00,520.92L318.00,520.92L319.90,520.92L319.90,522.33L321.80,522.33L321.80,518.15L323.70,518.15L323.70,517.24L325.60,517.24L325.60,511.60L327.50,511.60L327.50,511.60L329.40,511.60L329.40,505.60L331.30,505.60L331.30,505.60L333.20,505.60L333.20,505.60L335.10,505.60L335.10,507.75L337.00,507.75L337.00,507.92L338.90,507.92L338.90,508.66L340.80,508.66L340.80,509.90L342.70,509.90L342.70,510.34L344.60,510.34L344.60,496.55L346.50,496.55L346.50,497.50L348.40,497.50L348.40,498.40L350.30,498.40L350.30,498.40L352.20,498.40L352.20,497.25L354.10,497.25L354.10,497.25L356.00,497.25L356.00,498.61L357.90,498.61L357.90,496.09L359.80,496.09L359.80,490.97L361.70,490.97L361.70,487.50L363.60,487.50L363.60,485.32L365.50,485.32L365.50,486.76L367.40,486.76L367.40,489.03L369.30,489.03L369.30,487.20L371.20,487.20L371.20,487.20L373.10,487.20L373.10,490.10L375.00,490.10L375.00,488.20L376.90,488.20L376.90,487.25L378.80,487.25L378.80,490.38L380.70,490.38L380.70,496.22L382.60,496.22L382.60,497.91L384.50,497.91L384.50,498.20L386.40,498.20L386.40,500.93L388.30,500.93L388.30,510.59L390.20,510.59L390.20,510.59L392.10,510.59L392.10,511.22L394.00,511.22L394.00,512.45L395.90,512.45L395.90,514.87L397.80,514.87L397.80,515.68L399.70,515.68L399.70,515.94L401.60,515.94L401.60,516.19L403.50,516.19L403.50,518.30L405.40,518.30L405.40,518.67L407.30,518.67L407.30,519.05L409.20,519.05L409.20,519.42L411.10,519.42L411.10,520.25L413.00,520.25L413.00,521.20L414.90,521.20L414.90,522.50L416.80,522.50L416.80,523.28L418.70,523.28L418.70,523.11L420.60,523.11L420.60,522.94L422.50,522.94L422.50,522.04L424.40,522.04L424.40,518.41L426.30,518.41L426.30,516.11L428.20,516.11L428.20,512.90L430.10,512.90L430.10,509.60L432.00,509.60L432.00,507.77L433.90,507.77L433.90,507.05L435.80,507.05L435.80,507.37L437.70,507.37L437.70,507.30L439.60,507.30L439.60,504.80L441.50,504.80L441.50,501.00L443.40,501.00L443.40,501.72L445.30,501.72L445.30,503.00L447.20,503.00L447.20,503.00L449.10,503.00L449.10,508.03L451.00,508.03L451.00,510.58L452.90,510.58L452.90,512.15L454.80,512.15L454.80,512.86L456.70,512.86L456.70,511.29L458.60,511.29L458.60,510.05L460.50,510.05L460.50,509.37L462.40,509.37L462.40,504.44L464.30,504.44L464.30,503.15L466.20,503.15L466.20,502.57L468.10,502.57L468.10,501.80L470.00,501.80L470.00,496.50L471.90,496.50L471.90,484.50L473.80,484.50L473.80,479.47L475.70,479.47L475.70,477.41L477.60,477.41L477.60,483.18L479.50,483.18L479.50,486.97L479.80,486.97L479.80,538.60Z" fill="#e0342f"/>
<path d="M295.3,538.9L299.2,538.6L303.2,536.0L307.8,535.7L314.4,532.0L319.0,528.7L321.0,526.1L323.0,527.4L327.0,523.5L331.6,516.9L336.8,518.2L340.1,516.9L345.4,517.8L348.7,512.2L352.7,511.6L356.0,509.6L360.0,510.3L363.9,504.3L366.5,502.3L368.5,510.9L370.5,508.0L374.0,509.6L375.9,516.2L379.2,509.6L383.2,513.6L387.8,518.2L390.5,524.1L395.1,524.1L401.7,526.1L409.6,526.8L417.5,530.1L422.8,528.1L426.8,528.1L430.7,520.2L435.3,515.5L440.0,516.2L443.3,517.5L445.5,512.2L449.2,516.2L453.2,519.5L457.8,521.5L462.4,519.5L465.0,520.8L467.0,514.2L470.3,512.9L473.0,510.9L475.6,499.7L477.6,497.1L479.3,498.4L480.2,503.7" fill="none" stroke="#000" stroke-width="3.5" stroke-linejoin="round" stroke-linecap="round"/>
<text x="263.8" y="485.0">40K</text><text x="263.8" y="512.7">20K</text><text x="268.3" y="539.8">0K</text>
<text x="312.1" y="558.6" text-anchor="middle">May</text><text x="336.4" y="558.6" text-anchor="middle">Aug</text><text x="360.8" y="558.6" text-anchor="middle">Nov</text><text x="385.4" y="558.6" text-anchor="middle">Feb</text><text x="409" y="558.6" text-anchor="middle">May</text><text x="433.4" y="558.6" text-anchor="middle">Aug</text><text x="457.9" y="558.6" text-anchor="middle">Nov</text><text x="481.2" y="558.6" text-anchor="middle">Feb</text>
</svg>
</div>
<div class="card">
<div class="rp" style="top:470px;height:99px"></div>
<div class="cells" style="left:734px;top:497px;width:332px;height:66px"></div>
<div class="sep" style="left:781px;top:497px;height:66px"></div>
<div class="sep" style="left:828px;top:497px;height:66px"></div>
<div class="sep" style="left:876px;top:497px;height:66px"></div>
<div class="sep" style="left:923px;top:497px;height:66px"></div>
<div class="sep" style="left:971px;top:497px;height:66px"></div>
<div class="sep" style="left:1018px;top:497px;height:66px"></div>
<span class="t" style="left:550.71px;top:482.00px;font-size:13px;color:#555;transform:scaleX(0.9941)">PCR Tests: Past 7 Days</span>
<span class="t b" style="left:554.97px;top:505.86px;font-size:32.3px;color:#333;transform:scaleX(1.1144)">170,880</span>
<span class="t" style="left:539.50px;top:544.10px;font-size:13px;color:#555;transform:scaleX(1.0897)">(total daily avg. of 24,411)</span>
<span class="t" style="left:744.46px;top:480.30px;font-size:13px;color:#555;transform:scaleX(1.0000)">1/21</span>
<span class="t" style="left:739.31px;top:524.69px;font-size:11px;color:#333;transform:scaleX(1.0550)">17,962</span>
<span class="t" style="left:792.01px;top:480.30px;font-size:13px;color:#555;transform:scaleX(1.0000)">1/20</span>
<span class="t" style="left:786.86px;top:524.69px;font-size:11px;color:#333;transform:scaleX(1.0550)">26,134</span>
<span class="t" style="left:839.56px;top:480.30px;font-size:13px;color:#555;transform:scaleX(1.0000)">1/19</span>
<span class="t" style="left:834.41px;top:524.69px;font-size:11px;color:#333;transform:scaleX(1.0550)">30,164</span>
<span class="t" style="left:887.11px;top:480.30px;font-size:13px;color:#555;transform:scaleX(1.0000)">1/18</span>
<span class="t" style="left:881.96px;top:524.69px;font-size:11px;color:#333;transform:scaleX(1.0550)">36,366</span>
<span class="t" style="left:934.66px;top:480.30px;font-size:13px;color:#555;transform:scaleX(1.0000)">1/17</span>
<span class="t" style="left:929.51px;top:524.69px;font-size:11px;color:#333;transform:scaleX(1.0550)">36,865</span>
<span class="t" style="left:982.21px;top:480.30px;font-size:13px;color:#555;transform:scaleX(1.0000)">1/16</span>
<span class="t" style="left:977.50px;top:524.69px;font-size:11px;color:#333;transform:scaleX(1.0550)">11,930</span>
<span class="t" style="left:1029.76px;top:480.30px;font-size:13px;color:#555;transform:scaleX(1.0000)">1/15</span>
<span class="t" style="left:1025.05px;top:524.69px;font-size:11px;color:#333;transform:scaleX(1.0550)">11,459</span>
</div>
</section>
<section class="row">
<div class="card">
<div class="lp" style="top:577px;height:99px"></div>
<span class="t" style="left:74.90px;top:598.20px;font-size:13px;color:#555;transform:scaleX(1.0621)">Antigen Tests to Date</span>
<span class="t b" style="left:62.20px;top:621.96px;font-size:32.3px;color:#333;transform:scaleX(1.0931)">4,018,320</span>
<svg width="1078" height="682" viewBox="0 0 1078 682">
<path d="M298.60,642.00L298.60,641.98L300.50,641.98L300.50,641.96L302.40,641.96L302.40,641.94L304.30,641.94L304.30,641.92L306.20,641.92L306.20,641.90L308.10,641.90L308.10,641.88L310.00,641.88L310.00,641.86L311.90,641.86L311.90,641.84L313.80,641.84L313.80,641.82L315.70,641.82L315.70,641.81L317.60,641.81L317.60,641.79L319.50,641.79L319.50,641.77L321.40,641.77L321.40,641.75L323.30,641.75L323.30,641.73L325.20,641.73L325.20,641.71L327.10,641.71L327.10,641.69L329.00,641.69L329.00,641.67L330.90,641.67L330.90,641.65L332.80,641.65L332.80,641.63L334.70,641.63L334.70,641.61L336.60,641.61L336.60,641.59L338.50,641.59L338.50,641.57L340.40,641.57L340.40,641.55L342.30,641.55L342.30,641.53L344.20,641.53L344.20,641.51L346.10,641.51L346.10,641.39L348.00,641.39L348.00,641.04L349.90,641.04L349.90,640.69L351.80,640.69L351.80,640.34L353.70,640.34L353.70,639.98L355.60,639.98L355.60,639.53L357.50,639.53L357.50,638.90L359.40,638.90L359.40,637.00L361.30,637.00L361.30,635.10L363.20,635.10L363.20,633.20L365.10,633.20L365.10,631.45L367.00,631.45L367.00,629.80L368.90,629.80L368.90,628.15L370.80,628.15L370.80,626.77L372.70,626.77L372.70,625.47L374.60,625.47L374.60,625.20L376.50,625.20L376.50,622.74L378.40,622.74L378.40,622.74L380.30,622.74L380.30,623.66L382.20,623.66L382.20,623.97L384.10,623.97L384.10,624.17L386.00,624.17L386.00,624.37L387.90,624.37L387.90,625.58L389.80,625.58L389.80,626.93L391.70,626.93L391.70,627.55L393.60,627.55L393.60,628.18L395.50,628.18L395.50,628.80L397.40,628.80L397.40,629.17L399.30,629.17L399.30,629.29L401.20,629.29L401.20,629.42L403.10,629.42L403.10,629.54L405.00,629.54L405.00,629.67L406.90,629.67L406.90,629.79L408.80,629.79L408.80,631.60L410.70,631.60L410.70,632.55L412.60,632.55L412.60,632.80L414.50,632.80L414.50,632.97L416.40,632.97L416.40,632.80L418.30,632.80L418.30,632.63L420.20,632.63L420.20,632.46L422.10,632.46L422.10,629.68L424.00,629.68L424.00,625.93L425.90,625.93L425.90,623.74L427.80,623.74L427.80,621.75L429.70,621.75L429.70,620.80L431.60,620.80L431.60,619.91L433.50,619.91L433.50,619.91L435.40,619.91L435.40,620.08L437.30,620.08L437.30,620.25L439.20,620.25L439.20,620.41L441.10,620.41L441.10,620.58L443.00,620.58L443.00,621.73L444.90,621.73L444.90,623.00L446.80,623.00L446.80,624.80L448.70,624.80L448.70,626.70L450.60,626.70L450.60,627.86L452.50,627.86L452.50,628.30L454.40,628.30L454.40,627.03L456.30,627.03L456.30,625.95L458.20,625.95L458.20,625.00L460.10,625.00L460.10,624.05L462.00,624.05L462.00,623.16L463.90,623.16L463.90,622.75L465.80,622.75L465.80,620.44L467.70,620.44L467.70,615.40L469.60,615.40L469.60,612.35L471.50,612.35L471.50,611.40L473.40,611.40L473.40,611.40L475.30,611.40L475.30,615.71L476.90,615.71L476.90,642.00Z" fill="#88b8dd"/>
<path d="M298.6,642.7L347.4,642.4L356.6,640.4L363.2,636.4L370.0,632.2L375.3,630.3L379.9,627.8L385.8,629.1L389.8,632.4L399.0,634.4L405.6,633.8L412.2,636.4L416.2,637.7L422.8,635.7L428.1,630.5L434.7,626.9L442.6,627.2L447.9,630.5L454.5,633.1L460.4,631.1L462.4,633.8L465.0,629.1L469.7,627.8L472.3,622.5L474.3,619.9L476.3,624.5L477.2,627.8" fill="none" stroke="#000" stroke-width="2.2" stroke-linejoin="round" stroke-linecap="round"/>
<text x="267.3" y="594.6">40K</text><text x="267.3" y="619.7">20K</text><text x="271.8" y="642.8">0K</text>
<text x="314" y="662.0" text-anchor="middle">May</text><text x="338.2" y="662.0" text-anchor="middle">Aug</text><text x="361.7" y="662.0" text-anchor="middle">Nov</text><text x="385" y="662.0" text-anchor="middle">Feb</text><text x="408.2" y="662.0" text-anchor="middle">May</text><text x="431.4" y="662.0" text-anchor="middle">Aug</text><text x="455.6" y="662.0" text-anchor="middle">Nov</text><text x="477" y="662.0" text-anchor="middle">Feb</text>
</svg>
</div>
<div class="card">
<div class="rp" style="top:577px;height:99px"></div>
<div class="cells" style="left:734px;top:604px;width:332px;height:66px"></div>
<div class="sep" style="left:781px;top:604px;height:66px"></div>
<div class="sep" style="left:828px;top:604px;height:66px"></div>
<div class="sep" style="left:876px;top:604px;height:66px"></div>
<div class="sep" style="left:923px;top:604px;height:66px"></div>
<div class="sep" style="left:971px;top:604px;height:66px"></div>
<div class="sep" style="left:1018px;top:604px;height:66px"></div>
<span class="t" style="left:539.50px;top:589.00px;font-size:13px;color:#555;transform:scaleX(1.0369)">Antigen Tests: Past 7 Days</span>
<span class="t b" style="left:568.60px;top:612.86px;font-size:32.3px;color:#333;transform:scaleX(1.1041)">85,453</span>
<span class="t" style="left:539.50px;top:651.10px;font-size:13px;color:#555;transform:scaleX(1.0827)">(total daily avg. of 12,208)</span>
<span class="t" style="left:744.46px;top:587.30px;font-size:13px;color:#555;transform:scaleX(1.0000)">1/21</span>
<span class="t" style="left:742.54px;top:631.69px;font-size:11px;color:#333;transform:scaleX(1.0550)">6,613</span>
<span class="t" style="left:792.01px;top:587.30px;font-size:13px;color:#555;transform:scaleX(1.0000)">1/20</span>
<span class="t" style="left:786.86px;top:631.69px;font-size:11px;color:#333;transform:scaleX(1.0550)">12,367</span>
<span class="t" style="left:839.56px;top:587.30px;font-size:13px;color:#555;transform:scaleX(1.0000)">1/19</span>
<span class="t" style="left:834.41px;top:631.69px;font-size:11px;color:#333;transform:scaleX(1.0550)">15,671</span>
<span class="t" style="left:887.11px;top:587.30px;font-size:13px;color:#555;transform:scaleX(1.0000)">1/18</span>
<span class="t" style="left:881.96px;top:631.69px;font-size:11px;color:#333;transform:scaleX(1.0550)">16,131</span>
<span class="t" style="left:934.66px;top:587.30px;font-size:13px;color:#555;transform:scaleX(1.0000)">1/17</span>
<span class="t" style="left:929.51px;top:631.69px;font-size:11px;color:#333;transform:scaleX(1.0550)">17,308</span>
<span class="t" style="left:982.21px;top:587.30px;font-size:13px;color:#555;transform:scaleX(1.0000)">1/16</span>
<span class="t" style="left:977.50px;top:631.69px;font-size:11px;color:#333;transform:scaleX(1.0550)">11,967</span>
<span class="t" style="left:1029.76px;top:587.30px;font-size:13px;color:#555;transform:scaleX(1.0000)">1/15</span>
<span class="t" style="left:1027.84px;top:631.69px;font-size:11px;color:#333;transform:scaleX(1.0550)">5,396</span>
</div>
</section>
</main>
</body>
</html>
